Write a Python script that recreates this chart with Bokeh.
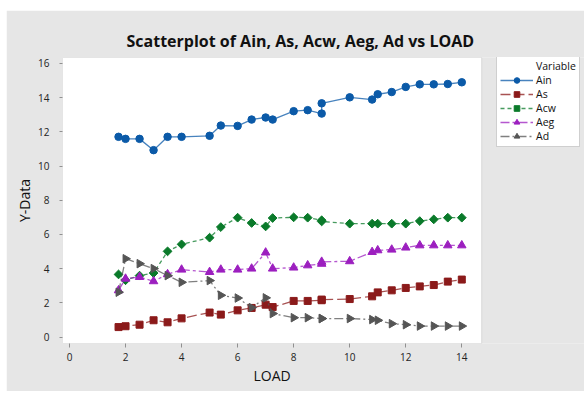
import numpy as np
from bokeh.plotting import figure
from bokeh.models import Legend, LegendItem, FixedTicker, Range1d, BoxAnnotation, Title
from bokeh.embed import file_html
from bokeh.resources import INLINE

# ---- data ----
LOAD = [1.75, 2.0, 2.5, 3.0, 3.5, 4.0, 5.0, 5.4, 6.0, 6.5, 7.0, 7.25, 8.0, 8.5,
        9.0, 9.0, 10.0, 10.8, 11.0, 11.5, 12.0, 12.5, 13.0, 13.5, 14.0]
AIN = [11.71, 11.59, 11.59, 10.93, 11.71, 11.71, 11.77, 12.37, 12.35, 12.72, 12.84, 12.72,
       13.21, 13.27, 13.07, 13.67, 14.02, 13.89, 14.20, 14.33, 14.63, 14.78, 14.78, 14.80, 14.90]
AS = [0.58, 0.63, 0.72, 0.98, 0.86, 1.09, 1.43, 1.31, 1.56, 1.70, 1.89, 1.75,
      2.11, 2.11, 2.15, 2.19, 2.22, 2.38, 2.61, 2.73, 2.87, 2.96, 3.04, 3.24, 3.36]
ACW = [3.66, 3.32, 3.59, 3.74, 5.01, 5.42, 5.81, 6.43, 6.98, 6.67, 6.47, 6.96,
       7.00, 6.98, 6.83, 6.76, 6.63, 6.63, 6.63, 6.63, 6.63, 6.78, 6.88, 6.98, 6.98]
AEG = [2.73, 3.41, 3.51, 3.26, 3.67, 3.94, 3.80, 3.94, 3.94, 4.00, 4.94, 4.00,
       4.06, 4.19, 4.28, 4.40, 4.43, 4.97, 5.07, 5.11, 5.23, 5.36, 5.36, 5.36, 5.36]
AD = [2.62, 4.58, 4.29, 4.00, 3.59, 3.20, 3.30, 2.44, 2.28, 1.72, 2.29, 1.37,
      1.13, 1.13, 1.08, 1.08, 1.08, 1.02, 0.98, 0.78, 0.72, 0.64, 0.64, 0.64, 0.64]
SERIES = ["Ain", "As", "Acw", "Aeg", "Ad"]
VALUES = [AIN, AS, ACW, AEG, AD]
X_TICKS = [0, 2, 4, 6, 8, 10, 12, 14]
Y_TICKS = [0, 2, 4, 6, 8, 10, 12, 14, 16]

# ---- styles ----
STYLE = {
    "Ain": dict(color="#0b5aa8", marker="circle", size=7.5, dash="solid", angle=0.0),
    "As": dict(color="#8b1a1a", marker="square", size=7, dash="10 4", angle=0.0),
    "Acw": dict(color="#0a7a2a", marker="square", size=6.2, dash="4 3", angle=np.pi / 4),
    "Aeg": dict(color="#9c1fbf", marker="triangle", size=8.5, dash="9 3 3 3", angle=0.0),
    "Ad": dict(color="#555555", marker="triangle", size=8.5, dash="9 3 2 3", angle=-np.pi / 2),
}
FONT = "Open Sans"
EDGE = "#a0a0a0"
BG = "#e6e6e6"

# data window of the plot, and the frame that also holds the legend to its right
X0, X1 = -0.25, 14.71
Y0, Y1 = -0.38, 16.35
PX_PER_X = 28.02
FIG_W, FIG_H = 578, 381
B_LEFT, B_TOP, B_BOTTOM = 56, 47, 48
FRAME_W = FIG_W - B_LEFT
X_END = X0 + FRAME_W / PX_PER_X

p = figure(width=FIG_W, height=FIG_H,
           min_border_left=B_LEFT, min_border_right=0, min_border_top=B_TOP,
           min_border_bottom=B_BOTTOM,
           x_range=Range1d(X0, X_END), y_range=Range1d(Y0, Y1),
           output_backend="svg", toolbar_location=None,
           border_fill_color=BG, background_fill_color=BG, outline_line_color=None)
p.margin = (10, 0, 0, 6)
p.grid.visible = False

p.add_layout(BoxAnnotation(left=X0, right=X1, bottom=Y0, top=Y1, fill_color="white",
                           fill_alpha=1.0, line_color=EDGE, line_width=1, level="underlay"))

p.title.text = "Scatterplot of Ain, As, Acw, Aeg, Ad vs LOAD"
p.title.align = "left"
p.title.offset = 64
p.title.standoff = 11
p.title.text_font = FONT
p.title.text_font_size = "16px"
p.title.text_font_style = "bold"
p.title.text_color = "#111111"

for ax in (p.xaxis[0], p.yaxis[0]):
    ax.axis_line_color = None
    ax.major_tick_line_color = "#909090"
    ax.major_tick_in = 0
    ax.minor_tick_line_color = None
    ax.major_label_text_font = FONT
    ax.major_label_text_font_size = "10px"
    ax.major_label_text_color = "#222222"
    ax.axis_label_text_font = FONT
    ax.axis_label_text_font_size = "14px"
    ax.axis_label_text_font_style = "normal"
    ax.axis_label_text_color = "#111111"

p.xaxis[0].ticker = FixedTicker(ticks=X_TICKS)
p.yaxis[0].ticker = FixedTicker(ticks=Y_TICKS)
p.yaxis[0].axis_label = "Y-Data"
p.xaxis[0].major_tick_out = 4
p.xaxis[0].major_label_standoff = 5
p.yaxis[0].major_tick_out = 3
p.yaxis[0].major_label_standoff = 10
p.yaxis[0].axis_label_standoff = 1

# x-axis title, centred under the data window rather than the whole frame
p.add_layout(Title(text="LOAD", align="left", offset=191, standoff=1, text_font=FONT,
                   text_font_size="14px", text_font_style="normal", text_color="#111111"),
             "below")

dummy = p.line(x=[], y=[], line_alpha=0)
items = [LegendItem(label="Variable", renderers=[dummy])]
for name, vals in zip(SERIES, VALUES):
    st = STYLE[name]
    ln = p.line(LOAD, vals, line_color=st["color"], line_width=1.3, line_alpha=0.75,
                line_dash=st["dash"])
    sc = p.scatter(LOAD, vals, marker=st["marker"], size=st["size"], angle=st["angle"],
                   fill_color=st["color"], line_color=st["color"])
    items.append(LegendItem(label=name, renderers=[ln, sc]))

legend = Legend(items=items, location=(434, 196), margin=0, padding=3, spacing=0,
                glyph_width=33, glyph_height=14, label_height=14, label_standoff=3,
                label_text_font=FONT, label_text_font_size="10.5px", label_text_color="#111111",
                border_line_color=EDGE, background_fill_color="white",
                background_fill_alpha=1.0)
p.add_layout(legend)

open("out.html", "w").write(file_html(p, INLINE))
